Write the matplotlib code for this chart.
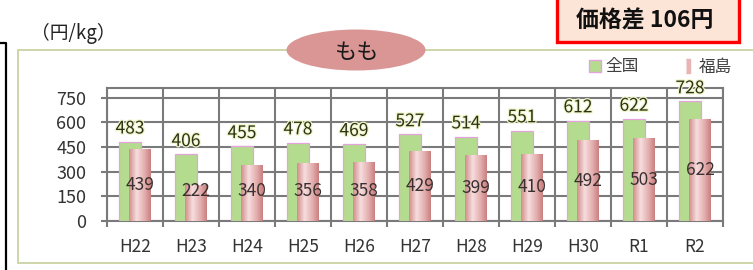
import numpy as np
import matplotlib
matplotlib.use("Agg")
import matplotlib.pyplot as plt
from matplotlib.patches import Rectangle, Ellipse
from matplotlib.lines import Line2D
from matplotlib.colors import LinearSegmentedColormap
import matplotlib.patheffects as pe

plt.rcParams["font.family"] = ["Noto Sans CJK JP", "DejaVu Sans"]

# data (円/kg)
years = ["H22", "H23", "H24", "H25", "H26", "H27", "H28", "H29", "H30", "R1", "R2"]
national = [483, 406, 455, 478, 469, 527, 514, 551, 612, 622, 728]
fukushima = [439, 222, 340, 356, 358, 429, 399, 410, 492, 503, 622]
yticks = [0, 150, 300, 450, 600, 750]
series_names = ["全国", "福島"]
title = "もも"
unit = "（円/kg）"
gap_text = "価格差 106円"

W, H = 753, 270
GREEN = "#b4dc8e"
GREEN_EDGE = "#e6a2dc"
PINK = "#e3aaaa"
GRID = "#7a7a7a"


def fx(px):
    return px / W


def fy(py):
    return 1 - py / H


fig = plt.figure(figsize=(W / 100, H / 100), dpi=100)

# outer chart frame and the edge of the neighbouring box
fig.add_artist(Rectangle((fx(18), fy(263)), fx(760 - 18), (263 - 50) / H,
                         transform=fig.transFigure, facecolor="white",
                         edgecolor="#c9d3a3", lw=1.3, zorder=0))
fig.add_artist(Line2D([0, fx(6), fx(6)], [fy(43), fy(43), 0],
                      transform=fig.transFigure, color="black", lw=1.6))

ax = fig.add_axes([fx(107), fy(221), fx(723 - 107), (221 - 88) / H])
ax.set_facecolor("none")

x = np.arange(len(years))
off, bw = 0.09, 0.38
g_bars = ax.bar(x - off, national, bw, color=GREEN, edgecolor=GREEN_EDGE, lw=0.9, zorder=3)
p_bars = ax.bar(x + off, fukushima, bw, color=PINK, lw=0, zorder=4)

# cylinder-like shading on the Fukushima bars
cyl = LinearSegmentedColormap.from_list(
    "cyl", [(0, "#d48c8c"), (0.35, "#f6dede"), (0.7, "#e4b0b0"), (1, "#c98080")])
grad = np.linspace(0, 1, 64).reshape(1, -1)
for b in p_bars:
    x0, y0 = b.get_x(), b.get_y()
    im = ax.imshow(grad, cmap=cyl, aspect="auto", zorder=4.5,
                   extent=(x0, x0 + b.get_width(), y0, y0 + b.get_height()))
    im.set_clip_path(b)

ax.set_xlim(-0.5, len(years) - 0.5)
ax.set_ylim(0, 810)

# grid: horizontal at ticks, vertical at category boundaries
ax.set_yticks(yticks)
ax.set_xticks(x)
ax.set_xticklabels(years)
ax.set_xticks(np.arange(len(years) + 1) - 0.5, minor=True)
ax.grid(axis="y", color=GRID, lw=1.5, zorder=1)
ax.grid(axis="x", which="minor", color=GRID, lw=1.5, zorder=1)
ax.tick_params(axis="x", which="major", length=0, pad=12, labelsize=12.5, labelcolor="#333333")
ax.tick_params(axis="x", which="minor", length=4, width=1.5, color=GRID, direction="out")
ax.tick_params(axis="y", length=4, width=1.5, color=GRID, pad=11, labelsize=13,
               labelcolor="#333333")
for s in ax.spines.values():
    s.set_color(GRID)
    s.set_linewidth(1.5)

glow = [pe.withStroke(linewidth=1.8, foreground="#eef6c8")]
for xi, v in zip(x, national):
    ax.annotate(str(v), (xi - off, v), xytext=(0, 9.5), textcoords="offset points",
                ha="center", va="center", fontsize=12.5, color="#2e3018",
                path_effects=glow, zorder=6)
for xi, v in zip(x, fukushima):
    ax.text(xi + off, max(v / 2, 182), str(v), ha="center", va="center",
            fontsize=12.5, color="#3a3030", zorder=6)

# legend
handles = [
    Line2D([], [], ls="none", marker="s", ms=8, mfc=GREEN, mec=GREEN_EDGE, mew=1),
    Line2D([], [], ls="none", marker=[(-0.3, -1), (0.3, -1), (0.3, 1), (-0.3, 1)],
           ms=10, mfc="#e8b4b4", mec="#e8b4b4"),
]
fig.legend(handles, series_names, loc="center left", bbox_to_anchor=(fx(574), fy(67)),
           ncol=2, frameon=False, handlelength=0.7, handletextpad=0.3,
           columnspacing=2.6, prop={"size": 12}, labelcolor="#404040")

# title bubble, unit and price-gap box
fig.add_artist(Ellipse((fx(356), fy(50)), fx(139), 41 / H, transform=fig.transFigure,
                       facecolor="#da9694", edgecolor="none", zorder=5))
fig.text(fx(357), fy(52), title, ha="center", va="center", fontsize=16,
         color="#1a1a1a", zorder=6)
fig.text(fx(31), fy(33), unit, ha="left", va="center", fontsize=13.5, color="#222222")
fig.add_artist(Rectangle((fx(557), fy(42)), fx(739 - 557), 60 / H, transform=fig.transFigure,
                         facecolor="#fce4d6", edgecolor="#ff0000", lw=2.4, zorder=5))
fig.text(fx(645), fy(21), gap_text, ha="center", va="center", fontsize=16.5,
         fontweight="bold", color="#111111", zorder=6)

fig.savefig("out.png", dpi=100)
